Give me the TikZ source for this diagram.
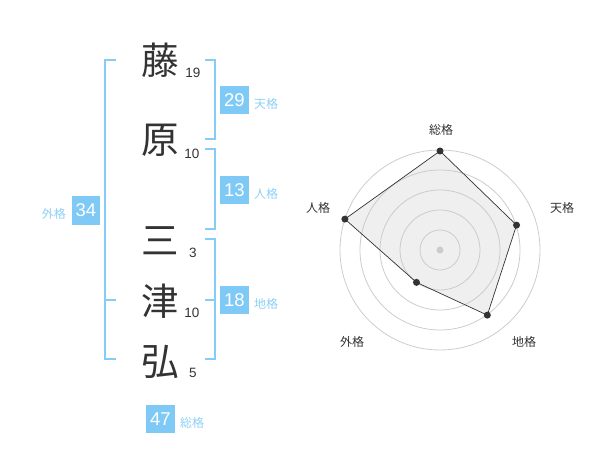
\documentclass[tikz,border=0pt]{standalone}
\usepackage{fontspec}
\usetikzlibrary{calc}
\setmainfont{Liberation Sans}
\newfontfamily\cjk{Noto Sans CJK JP}
\definecolor{bracketblue}{HTML}{85CDF8}
\definecolor{boxblue}{HTML}{7FC9F7}
\definecolor{lblblue}{HTML}{8DD0F6}
\definecolor{darktxt}{HTML}{333333}
\definecolor{ringgray}{HTML}{CCCCCC}
\definecolor{polyfill}{HTML}{EFEFEF}
\tikzset{
  kanji/.style={font=\cjk\fontsize{37.5}{37.5}\selectfont, text=darktxt, inner sep=0pt},
  strokes/.style={font=\fontsize{13.5}{13.5}\selectfont, text=darktxt, inner sep=0pt},
  numbox/.style={fill=boxblue, text=white, minimum width=28.5pt, minimum height=28.5pt, inner sep=0pt, font=\fontsize{18.5}{18.5}\selectfont},
  kakulbl/.style={font=\cjk\fontsize{12}{12}\selectfont, text=lblblue, inner sep=0pt},
  radarlbl/.style={font=\cjk\fontsize{12}{12}\selectfont, text=darktxt, inner sep=0pt},
  bracket/.style={draw=bracketblue, line width=2pt},
  ring/.style={draw=ringgray, line width=0.8pt},
  vdot/.style={circle, fill=darktxt, inner sep=0pt, minimum size=7pt},
}
\begin{document}
\begin{tikzpicture}[x=1pt,y=-1pt]
\useasboundingbox (0,0) rectangle (600,470);
% kanji
\node[kanji] (k1) at (160,60) {藤};
\node[kanji] (k2) at (160,140) {原};
\node[kanji] (k3) at (160,241) {三};
\node[kanji] (k4) at (160,301) {津};
\node[kanji] (k5) at (160,362) {弘};
% stroke counts
\node[strokes] (s1) at (193,73) {19};
\node[strokes] (s2) at (192,153.5) {10};
\node[strokes] (s3) at (193,253) {3};
\node[strokes] (s4) at (192,313) {10};
\node[strokes] (s5) at (193,373) {5};
% brackets
\draw[bracket] (116,60) -- (105,60) -- (105,359.5) -- (116,359.5);
\draw[bracket] (105,300) -- (116,300);
\draw[bracket] (205,60) -- (214.5,60) -- (214.5,139.5) -- (205,139.5);
\draw[bracket] (205,149.5) -- (214.5,149.5) -- (214.5,229.5) -- (205,229.5);
\draw[bracket] (205,239.5) -- (214.5,239.5) -- (214.5,359.5) -- (205,359.5);
\draw[bracket] (205,300) -- (214.5,300);
% boxes
\node[numbox] (ten) at (234.5,100) {29};
\node[kakulbl, anchor=west] (tenl) at (254,104) {天格};
\node[numbox] (jin) at (234.5,190) {13};
\node[kakulbl, anchor=west] (jinl) at (254,194) {人格};
\node[numbox] (chi) at (234.5,300) {18};
\node[kakulbl, anchor=west] (chil) at (254,304) {地格};
\node[numbox] (gai) at (86,210.5) {34};
\node[kakulbl, anchor=east] (gail) at (66,214) {外格};
\node[numbox] (sou) at (160.5,419) {47};
\node[kakulbl, anchor=west] (soul) at (180,423) {総格};
% radar
\coordinate (c) at (440,250);
\coordinate (pS) at ($(c)+(-90:99)$);
\coordinate (pT) at ($(c)+(-18:80.5)$);
\coordinate (pC) at ($(c)+(54:80.5)$);
\coordinate (pG) at ($(c)+(126:40)$);
\coordinate (pJ) at ($(c)+(-162:100)$);
\fill[polyfill] (pS) -- (pT) -- (pC) -- (pG) -- (pJ) -- cycle;
\foreach \r in {20,40,60,80,100} \draw[ring] (c) circle (\r);
\fill[ringgray] (c) circle (3.5);
\draw[draw=darktxt, line width=0.7pt] (pS) -- (pT) -- (pC) -- (pG) -- (pJ) -- cycle;
\foreach \p in {pS,pT,pC,pG,pJ} \node[vdot] at (\p) {};
\node[radarlbl] (rS) at (441,130) {総格};
\node[radarlbl] (rT) at (562,208) {天格};
\node[radarlbl] (rC) at (524,342) {地格};
\node[radarlbl] (rG) at (352,342) {外格};
\node[radarlbl] (rJ) at (318,208) {人格};
\end{tikzpicture}
\end{document}
